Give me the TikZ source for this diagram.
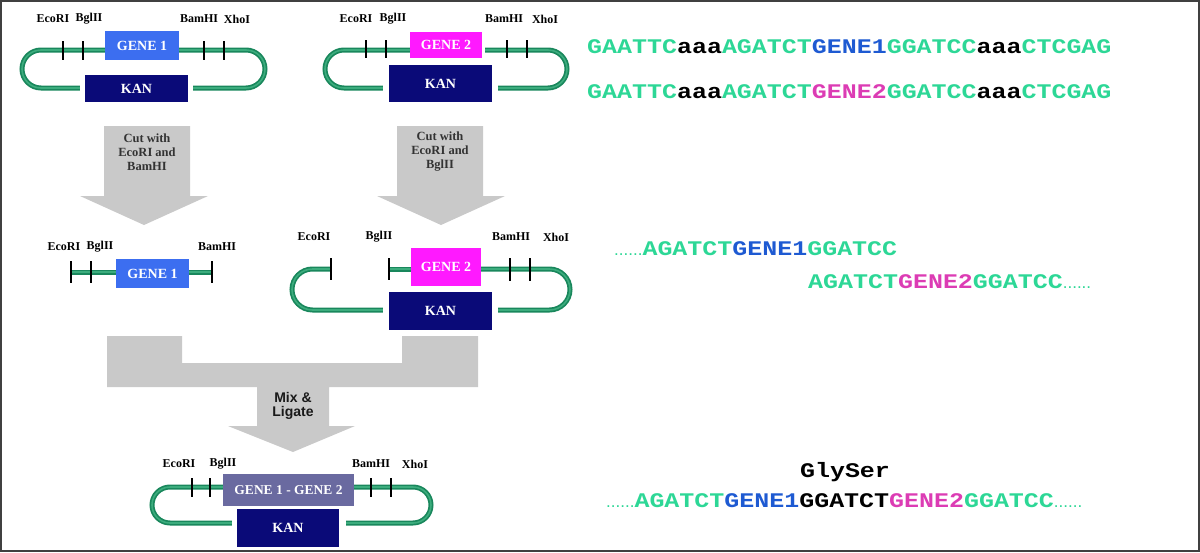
\documentclass[tikz,border=0pt]{standalone}
\usepackage{fontspec}
\setmainfont{Liberation Serif}
\setsansfont{Liberation Sans}
\newfontfamily\seqfont{Liberation Mono}[FakeStretch=1.2]

\definecolor{tubegreen}{RGB}{25,135,92}
\definecolor{tubehi}{RGB}{60,172,125}
\definecolor{geneblue}{RGB}{60,110,240}
\definecolor{genepink}{RGB}{255,25,255}
\definecolor{kanblue}{RGB}{10,10,120}
\definecolor{fusegray}{RGB}{106,106,160}
\definecolor{arrowgray}{RGB}{201,201,201}
\definecolor{seqgreen}{RGB}{45,215,150}
\definecolor{seqblue}{RGB}{30,90,210}
\definecolor{seqpink}{RGB}{220,60,180}

\newcommand{\sqg}[1]{\textcolor{seqgreen}{#1}}
\newcommand{\sqb}[1]{\textcolor{seqblue}{#1}}
\newcommand{\sqp}[1]{\textcolor{seqpink}{#1}}
\newcommand{\sqdots}{\textcolor{seqgreen}{\sffamily\mdseries\fontsize{17}{17}\selectfont......}}

\begin{document}
\begin{tikzpicture}
  [x=1pt, y=-1pt, every node/.style={inner sep=0pt}]
  \tikzset{tube/.style={draw=tubegreen, line width=5pt, postaction={draw=tubehi, line width=1.6pt}}}
  \tikzset{cutmark/.style={draw=black, line width=1.7pt}}
  \tikzset{site/.style={font=\bfseries\fontsize{12}{12}\selectfont}}
  \tikzset{genebox/.style={text=white, font=\bfseries\fontsize{14}{14}\selectfont}}
  \tikzset{kanbox/.style={genebox, fill=kanblue}}
  \tikzset{cutnote/.style={align=center, text=black!80, font=\bfseries\fontsize{12.5}{14}\selectfont}}
  \tikzset{seq/.style={anchor=base west, font=\seqfont\bfseries\fontsize{20.8}{21}\selectfont}}

  \useasboundingbox (0,0) rectangle (1200,552);

  % GENE 1 plasmid
  \node[genebox, fill=geneblue, minimum width=74pt, minimum height=29pt] (g1) at (142,45.5) {GENE 1};
  \node[kanbox, minimum width=103pt, minimum height=27pt] (k1) at (136.5,88.5) {KAN};
  \draw[tube, rounded corners=19pt] (g1.west |- 0,50) -- (22,50) -- (22,88) -- ([xshift=-5pt]k1.west |- 0,88);
  \draw[tube, rounded corners=19pt] (g1.east |- 0,50) -- (265,50) -- (265,88) -- ([xshift=5pt]k1.east |- 0,88);
  \foreach \x in {63,83,204,224}
    \draw[cutmark] (\x,41) -- (\x,60);
  \node[site] (e1) at (53,19) {EcoRI};
  \node[site] (b1) at (89,19) {BglII};
  \node[site] (h1) at (199,19) {BamHI};
  \node[site] (x1) at (237,19) {XhoI};

  % GENE 2 plasmid
  \node[genebox, fill=genepink, minimum width=72pt, minimum height=26pt] (g2) at (446,45) {GENE 2};
  \node[kanbox, minimum width=103pt, minimum height=37pt] (k2) at (440.5,83.5) {KAN};
  \draw[tube, rounded corners=19pt] (g2.west |- 0,50) -- (325,50) -- (325,88) -- ([xshift=-6pt]k2.west |- 0,88);
  \draw[tube, rounded corners=19pt] ([xshift=3pt]g2.east |- 0,50) -- (567,50) -- (567,88) -- ([xshift=6pt]k2.east |- 0,88);
  \foreach \x in {366,386,507,527}
    \draw[cutmark] (\x,40) -- (\x,58);
  \node[site] (e2) at (356,19) {EcoRI};
  \node[site] (b2) at (393,19) {BglII};
  \node[site] (h2) at (504,19) {BamHI};
  \node[site] (x2) at (545,19) {XhoI};

  % cut arrows
  \fill[arrowgray] (104,126) -- (190,126) -- (190,196) -- (208,196) -- (144,225) -- (80,196) -- (104,196) -- cycle;
  \node[cutnote] (c1) at (147,152) {Cut with\\EcoRI and\\BamHI};
  \fill[arrowgray] (397,126) -- (483,126) -- (483,196) -- (505,196) -- (441,225) -- (377,196) -- (397,196) -- cycle;
  \node[cutnote] (c2) at (440,152) {Cut with\\EcoRI and\\BglII};

  % GENE 1 insert
  \node[genebox, fill=geneblue, minimum width=73pt, minimum height=29pt] (gf) at (152.5,273.5) {GENE 1};
  \coordinate (fe) at (71,272);
  \coordinate (fb) at (91,272);
  \coordinate (fh) at (212,272);
  \draw[tube] (fe) -- (gf.west |- fe);
  \draw[tube] (gf.east |- fh) -- (fh);
  \foreach \c in {fe,fb,fh}
    \draw[cutmark] ([yshift=11pt]\c) -- ([yshift=-11pt]\c);
  \node[site] (ef) at (64,247) {EcoRI};
  \node[site] (bf) at (100,247) {BglII};
  \node[site] (hf) at (217,247) {BamHI};

  % opened GENE 2 vector
  \node[genebox, fill=genepink, minimum width=70pt, minimum height=38pt] (gv) at (446,267) {GENE 2};
  \node[kanbox, minimum width=103pt, minimum height=38pt] (kv) at (440.5,311) {KAN};
  \coordinate (ve) at (331,269);
  \coordinate (vb) at (389,269);
  \draw[tube, rounded corners=20.5pt] (ve) -- (292,269) -- (292,310) -- ([xshift=-6pt]kv.west |- 0,310);
  \draw[tube] (vb) -- (gv.west |- vb);
  \draw[tube, rounded corners=20.5pt] (gv.east |- 0,269) -- (570,269) -- (570,310) -- ([xshift=6pt]kv.east |- 0,310);
  \foreach \c in {ve,vb}
    \draw[cutmark] ([yshift=11pt]\c) -- ([yshift=-11pt]\c);
  \foreach \x in {510,530}
    \draw[cutmark] (\x,258) -- (\x,281);
  \node[site] (ev) at (314,237) {EcoRI};
  \node[site] (bv) at (379,237) {BglII};
  \node[site] (hv) at (511,237) {BamHI};
  \node[site] (xv) at (556,237) {XhoI};

  % ligation arrow
  \fill[arrowgray] (107,336) -- (182,336) -- (182,363) -- (402,363) -- (402,336) -- (478,336)
    -- (478,387) -- (329,387) -- (329,426) -- (355,426) -- (293,452) -- (228,426) -- (257,426)
    -- (257,387) -- (107,387) -- cycle;
  \node[align=center, text=black!90, font=\sffamily\bfseries\fontsize{14}{14}\selectfont] (ml) at (293,406) {Mix \&\\Ligate};

  % fusion plasmid
  \node[genebox, fill=fusegray, minimum width=131pt, minimum height=32pt, font=\bfseries\fontsize{13.5}{14}\selectfont] (gg) at (288.5,490) {GENE 1 - GENE 2};
  \node[kanbox, minimum width=102pt, minimum height=38pt] (kf) at (288,528) {KAN};
  \draw[tube, rounded corners=18pt] (gg.west |- 0,487) -- (152,487) -- (152,523) -- ([xshift=-5pt]kf.west |- 0,523);
  \draw[tube, rounded corners=18pt] (gg.east |- 0,487) -- (431,487) -- (431,523) -- ([xshift=7pt]kf.east |- 0,523);
  \foreach \x in {192,210,371,391}
    \draw[cutmark] (\x,478) -- (\x,497);
  \node[site] (ef2) at (179,464) {EcoRI};
  \node[site] (bf2) at (223,464) {BglII};
  \node[site] (hf2) at (371,464) {BamHI};
  \node[site] (xf2) at (415,464) {XhoI};

  % sequences
  \node[seq] (s1) at (587,53) {\sqg{GAATTC}aaa\sqg{AGATCT}\sqb{GENE1}\sqg{GGATCC}aaa\sqg{CTCGAG}};
  \node[seq] (s2) at (587,98) {\sqg{GAATTC}aaa\sqg{AGATCT}\sqp{GENE2}\sqg{GGATCC}aaa\sqg{CTCGAG}};
  \node[seq] (s3) at (614,255) {\sqdots\sqg{AGATCT}\sqb{GENE1}\sqg{GGATCC}};
  \node[seq] (s4) at (808,288) {\sqg{AGATCT}\sqp{GENE2}\sqg{GGATCC}\sqdots};
  \node[seq, anchor=base] (gs) at (845,477) {GlySer};
  \node[seq] (s5) at (606,507) {\sqdots\sqg{AGATCT}\sqb{GENE1}GGATCT\sqp{GENE2}\sqg{GGATCC}\sqdots};

  % frame
  \draw[line width=2pt, draw=black!75] (1,1) rectangle (1199,551);
\end{tikzpicture}
\end{document}
